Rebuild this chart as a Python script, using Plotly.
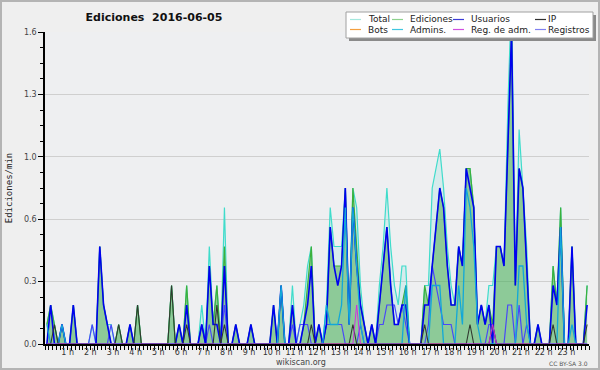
import plotly.graph_objects as go

# ---------------- data (10-minute bins, values in edits/min) ----------------
slot_hours = [(i + 0.5) / 6 for i in range(144)]          # bin centres, hours
hour_ticks = list(range(1, 24))
hour_labels = [f"{h} h" for h in hour_ticks]
y_ticks = [0, 0.32, 0.64, 0.96, 1.28, 1.6]
y_labels = ["0.0", "0.3", "0.6", "1.0", "1.3", "1.6"]

total_rows = [
    [0.1, 0.2, 0.1, 0, 0.1, 0], [0, 0.2, 0, 0, 0, 0], [0.1, 0, 0.5, 0.2, 0.1, 0.1],
    [0, 0.1, 0, 0, 0.1, 0], [0.2, 0, 0, 0, 0, 0], [0, 0, 0, 0.3, 0, 0.1],
    [0, 0.3, 0, 0, 0, 0.2], [0, 0.5, 0.1, 0.3, 0, 0.7], [0, 0, 0.1, 0, 0, 0],
    [0.1, 0, 0, 0, 0, 0], [0.2, 0, 0.3, 0, 0, 0.3], [0, 0.1, 0.2, 0.4, 0.5, 0],
    [0.1, 0, 0.2, 0.7, 0.5, 0.5], [0.5, 0.8, 0.1, 0.8, 0.7, 0.3], [0.1, 0, 0.1, 0, 0.3, 0.5],
    [0.8, 0.5, 0.3, 0.2, 0.4, 0.4], [0, 0, 0, 0, 0.3, 0.3], [0.8, 0.9, 1.0, 0.8, 0.5, 0.3],
    [0.2, 0.5, 0.4, 0.9, 0.9, 0.7], [0.1, 0.2, 0.1, 0.3, 0.3, 0.5], [0.5, 0.4, 1.2, 1.8, 0.3, 1.1],
    [0.8, 0.5, 0, 0, 0.1, 0], [0, 0, 0.4, 0.2, 0.7, 0], [0, 0.5, 0, 0, 0, 0.3],
]
ediciones_rows = [
    [0.1, 0.2, 0.1, 0, 0.1, 0], [0, 0.2, 0, 0, 0, 0], [0, 0, 0.5, 0.2, 0.1, 0],
    [0, 0.1, 0, 0, 0.1, 0], [0.2, 0, 0, 0, 0, 0], [0, 0, 0, 0.3, 0, 0.1],
    [0, 0.3, 0, 0, 0, 0.1], [0, 0.4, 0.1, 0.3, 0, 0.5], [0, 0, 0.1, 0, 0, 0],
    [0.1, 0, 0, 0, 0, 0], [0.2, 0, 0.3, 0, 0, 0.2], [0, 0, 0.1, 0.3, 0.5, 0],
    [0.1, 0, 0.1, 0.6, 0.4, 0.4], [0.4, 0.8, 0.1, 0.8, 0.5, 0.2], [0.1, 0, 0.1, 0, 0.2, 0.4],
    [0.6, 0.3, 0.1, 0.1, 0.2, 0.3], [0, 0, 0, 0, 0.3, 0.2], [0.4, 0.6, 0.8, 0.7, 0.4, 0.2],
    [0.2, 0.5, 0.4, 0.9, 0.9, 0.7], [0.1, 0.2, 0.1, 0.2, 0.1, 0.5], [0.5, 0.4, 1.0, 1.6, 0.3, 0.9],
    [0.8, 0.4, 0, 0, 0.1, 0], [0, 0, 0.4, 0.2, 0.7, 0], [0, 0.5, 0, 0, 0, 0.3],
]
usuarios_rows = [
    [0, 0.2, 0, 0, 0.1, 0], [0, 0.2, 0, 0, 0, 0], [0, 0, 0.5, 0.2, 0.1, 0],
    [0, 0, 0, 0, 0.1, 0], [0, 0, 0, 0, 0, 0], [0, 0, 0, 0, 0, 0.1],
    [0, 0.2, 0, 0, 0, 0.1], [0, 0.4, 0.1, 0.1, 0, 0.4], [0, 0, 0.1, 0, 0, 0],
    [0.1, 0, 0, 0, 0, 0], [0.2, 0, 0.3, 0, 0, 0.2], [0, 0, 0.1, 0.2, 0.4, 0],
    [0.1, 0, 0.1, 0.6, 0.4, 0.3], [0.4, 0.8, 0.1, 0.7, 0.4, 0.2], [0.1, 0, 0.1, 0, 0.2, 0.4],
    [0.6, 0.3, 0.1, 0.1, 0.2, 0.2], [0, 0, 0, 0, 0.2, 0.2], [0.4, 0.6, 0.8, 0.7, 0.4, 0.2],
    [0.2, 0.5, 0.4, 0.9, 0.8, 0.7], [0.1, 0.2, 0.1, 0.2, 0, 0.5], [0.5, 0.4, 1.0, 1.6, 0.3, 0.9],
    [0.8, 0.4, 0, 0, 0.1, 0], [0, 0, 0.3, 0.2, 0.6, 0], [0, 0.5, 0, 0, 0, 0.2],
]
ip_rows = [
    [0, 0, 0.1, 0, 0, 0], [0, 0, 0, 0, 0, 0], [0, 0, 0, 0, 0, 0],
    [0, 0.1, 0, 0, 0, 0], [0.2, 0, 0, 0, 0, 0], [0, 0, 0, 0.3, 0, 0],
    [0, 0.1, 0, 0, 0, 0], [0, 0, 0, 0.2, 0, 0.1], [0, 0, 0, 0, 0, 0],
    [0, 0, 0, 0, 0, 0], [0, 0, 0, 0, 0, 0], [0, 0, 0, 0, 0.1, 0],
    [0, 0, 0, 0, 0, 0], [0, 0, 0, 0.1, 0, 0], [0, 0, 0, 0, 0, 0],
    [0, 0, 0, 0, 0, 0], [0, 0, 0, 0, 0.1, 0], [0, 0, 0, 0, 0, 0],
    [0, 0, 0, 0, 0.1, 0], [0, 0, 0, 0, 0.1, 0], [0, 0, 0, 0, 0, 0],
    [0, 0, 0, 0, 0, 0], [0, 0, 0.1, 0, 0, 0], [0, 0, 0, 0, 0, 0.1],
]
bots_rows = [[0, 0, 0, 0, 0, 0] for _ in range(24)]
admins_rows = [
    [0.1, 0, 0, 0, 0.1, 0], [0, 0, 0, 0, 0, 0], [0, 0, 0, 0, 0, 0],
    [0, 0, 0, 0, 0, 0], [0, 0, 0, 0, 0, 0], [0, 0, 0, 0, 0, 0],
    [0, 0, 0, 0, 0, 0], [0, 0, 0, 0, 0, 0], [0, 0, 0, 0, 0, 0],
    [0, 0, 0, 0, 0, 0], [0, 0, 0.3, 0, 0, 0], [0, 0, 0, 0, 0, 0],
    [0, 0, 0.2, 0.1, 0.1, 0.1], [0.2, 0.7, 0.1, 0.7, 0.4, 0.1], [0, 0, 0, 0, 0, 0],
    [0, 0, 0, 0, 0, 0.3], [0, 0, 0, 0, 0, 0], [0.3, 0.3, 0.3, 0, 0, 0],
    [0, 0.3, 0.1, 0.8, 0.7, 0.5], [0.1, 0, 0, 0, 0, 0], [0, 0, 0, 0, 0, 0.4],
    [0.4, 0.1, 0, 0, 0, 0], [0, 0, 0, 0, 0.6, 0], [0, 0.1, 0, 0, 0, 0],
]
reg_adm_rows = [
    [0, 0, 0, 0, 0, 0], [0, 0, 0, 0, 0, 0], [0, 0, 0, 0, 0, 0],
    [0, 0, 0, 0, 0, 0], [0, 0, 0, 0, 0, 0], [0, 0, 0, 0, 0, 0],
    [0, 0, 0, 0, 0, 0], [0, 0, 0, 0, 0, 0], [0, 0, 0, 0, 0, 0],
    [0, 0, 0, 0, 0, 0], [0, 0, 0, 0, 0, 0], [0, 0, 0, 0, 0, 0],
    [0, 0, 0, 0, 0, 0], [0, 0, 0, 0, 0.2, 0], [0, 0, 0, 0, 0, 0],
    [0, 0, 0, 0, 0, 0], [0, 0, 0, 0, 0, 0], [0, 0, 0, 0, 0, 0],
    [0, 0, 0, 0, 0, 0], [0, 0, 0, 0, 0.1, 0], [0, 0, 0, 0, 0, 0],
    [0, 0, 0, 0, 0, 0], [0, 0, 0, 0, 0, 0], [0, 0, 0, 0, 0, 0],
]
registros_rows = [
    [0, 0, 0, 0, 0, 0], [0, 0, 0, 0, 0, 0], [0.1, 0, 0, 0, 0, 0.1],
    [0, 0, 0, 0, 0, 0], [0, 0, 0, 0, 0, 0], [0, 0, 0, 0, 0, 0],
    [0, 0, 0, 0, 0, 0.1], [0, 0.1, 0, 0, 0, 0.2], [0, 0, 0, 0, 0, 0],
    [0, 0, 0, 0, 0, 0], [0, 0, 0, 0, 0, 0.1], [0, 0.1, 0.1, 0.1, 0, 0],
    [0, 0, 0.1, 0.1, 0.1, 0.1], [0.1, 0, 0, 0, 0, 0.1], [0, 0, 0, 0, 0.1, 0.1],
    [0.2, 0.2, 0.2, 0.1, 0.2, 0.1], [0, 0, 0, 0, 0, 0.1], [0.4, 0.3, 0.2, 0.1, 0.1, 0.1],
    [0, 0, 0, 0, 0, 0], [0, 0, 0, 0.1, 0.1, 0], [0, 0, 0.2, 0.2, 0, 0.2],
    [0, 0.1, 0, 0, 0, 0], [0, 0, 0, 0, 0, 0], [0, 0, 0, 0, 0, 0],
]


def flat(rows):
    return [v for row in rows for v in row]


total = flat(total_rows)
ediciones = flat(ediciones_rows)
usuarios = flat(usuarios_rows)
ip = flat(ip_rows)
bots = flat(bots_rows)
admins = flat(admins_rows)
reg_adm = flat(reg_adm_rows)
registros = flat(registros_rows)

# ---------------- layout geometry ----------------
W, H = 600, 370
ML, MR, MT, MB = 45, 11, 32, 26
PW, PH = W - ML - MR, H - MT - MB


def pxx(x):
    return (x - ML) / PW


def pxy(y):
    return (H - MB - y) / PH


FONT = "DejaVu Sans"

fig = go.Figure()

# Areas
fig.add_trace(go.Scatter(x=slot_hours, y=total, name="Total", mode="lines",
                         line=dict(color="#3fdccb", width=1.2),
                         fill="tozeroy", fillcolor="rgba(120,220,220,0.20)"))
fig.add_trace(go.Scatter(x=slot_hours, y=ediciones, name="Ediciones", mode="lines",
                         line=dict(color="#3cb03c", width=1.2),
                         fill="tozeroy", fillcolor="rgba(60,165,60,0.48)"))
# Lines
line_specs = [
    ("Bots", bots, "#f0a030", 1.0),
    ("Registros", registros, "#4848f8", 1.2),
    ("Usuarios", usuarios, "#0000f0", 1.6),
    ("Admins.", admins, "#12a8d8", 1.3),
    ("IP", ip, "#303830", 1.1),
    ("Reg. de adm.", reg_adm, "#d030e0", 1.0),
]
for name, vals, col, w in line_specs:
    fig.add_trace(go.Scatter(x=slot_hours, y=vals, name=name, mode="lines",
                             line=dict(color=col, width=w)))

fig.update_layout(
    width=W, height=H,
    margin=dict(l=ML, r=MR, t=MT, b=MB, autoexpand=False),
    paper_bgcolor="#efefef", plot_bgcolor="#eeeff1",
    showlegend=False,
    font=dict(family=FONT, size=8, color="#333"),
    title=dict(text="<b>Ediciones\u00a0 2016-06-05</b>", xref="container", yref="container",
               x=154 / W, y=1 - 17 / H, xanchor="center", yanchor="middle",
               font=dict(family=FONT, size=11, color="#111")),
)

fig.update_xaxes(range=[0, 24], showgrid=False, zeroline=False,
                 showline=True, linecolor="black", linewidth=1.5,
                 tickmode="array", tickvals=hour_ticks, ticktext=hour_labels,
                 ticks="outside", ticklen=4, tickwidth=1, tickcolor="black",
                 ticklabelstandoff=-4,
                 tickfont=dict(family=FONT, size=8, color="#333"),
                 minor=dict(tickmode="linear", tick0=0, dtick=1 / 6, ticks="outside",
                            ticklen=4, tickwidth=1, tickcolor="black", showgrid=False))
fig.update_yaxes(range=[0, 1.6], showgrid=True, gridcolor="#cfcfcf", gridwidth=1,
                 zeroline=False, showline=True, linecolor="black", linewidth=1.5,
                 tickmode="array", tickvals=y_ticks, ticktext=y_labels,
                 ticks="outside", ticklen=5, tickwidth=1, tickcolor="black",
                 tickfont=dict(family=FONT, size=8, color="#444"),
                 minor=dict(tickmode="linear", tick0=0, dtick=0.08, ticks="outside",
                            ticklen=3, tickwidth=1, tickcolor="black", showgrid=False),
                 title=dict(text="Ediciones/min", standoff=10,
                            font=dict(family="DejaVu Sans Mono", size=9, color="#222")))

shapes = []
annotations = []

# outer frame
shapes.append(dict(type="rect", xref="paper", yref="paper",
                   x0=pxx(1), x1=pxx(W - 1), y0=pxy(H - 1), y1=pxy(1),
                   line=dict(color="#b4b4b4", width=2), fillcolor="rgba(0,0,0,0)", layer="below"))

# legend box (shadow + box)
shapes.append(dict(type="rect", xref="paper", yref="paper",
                   x0=pxx(349), x1=pxx(596), y0=pxy(41), y1=pxy(15),
                   line=dict(width=0), fillcolor="#8a8a8a", layer="above"))
shapes.append(dict(type="rect", xref="paper", yref="paper",
                   x0=pxx(346), x1=pxx(593), y0=pxy(38), y1=pxy(12),
                   line=dict(color="#a0a0a0", width=1), fillcolor="#ffffff", layer="above"))

legend_entries = [
    ("Total", "#a4e8de", 350, 366, 19.5),
    ("Ediciones", "#8ed28e", 392, 408, 19.5),
    ("Usuarios", "#3c3cd8", 453, 469, 19.5),
    ("IP", "#303030", 535, 546, 19.5),
    ("Bots", "#f4a040", 350, 366, 29.5),
    ("Admins.", "#40c6e0", 392, 408, 29.5),
    ("Reg. de adm.", "#d050e0", 453, 469, 29.5),
    ("Registros", "#8080f0", 535, 546, 29.5),
]
for name, col, lx, tx, ry in legend_entries:
    shapes.append(dict(type="line", xref="paper", yref="paper",
                       x0=pxx(lx), x1=pxx(lx + 11), y0=pxy(ry), y1=pxy(ry),
                       line=dict(color=col, width=1.2), layer="above"))
    annotations.append(dict(text=name, xref="paper", yref="paper", x=pxx(tx), y=pxy(ry),
                            xanchor="left", yanchor="middle", showarrow=False,
                            font=dict(family=FONT, size=9, color="#222")))

annotations.append(dict(text="wikiscan.org", xref="paper", yref="paper",
                        x=pxx(301), y=pxy(362), xanchor="center", yanchor="middle",
                        showarrow=False, font=dict(family=FONT, size=8, color="#444")))
annotations.append(dict(text="CC BY-SA 3.0", xref="paper", yref="paper",
                        x=pxx(590), y=pxy(363), xanchor="right", yanchor="middle",
                        showarrow=False, font=dict(family=FONT, size=6, color="#555")))

fig.update_layout(shapes=shapes, annotations=annotations)

fig.write_html("out.html", config={"displayModeBar": False},
               post_script="document.body.style.margin='0';document.body.style.overflow='hidden';")
